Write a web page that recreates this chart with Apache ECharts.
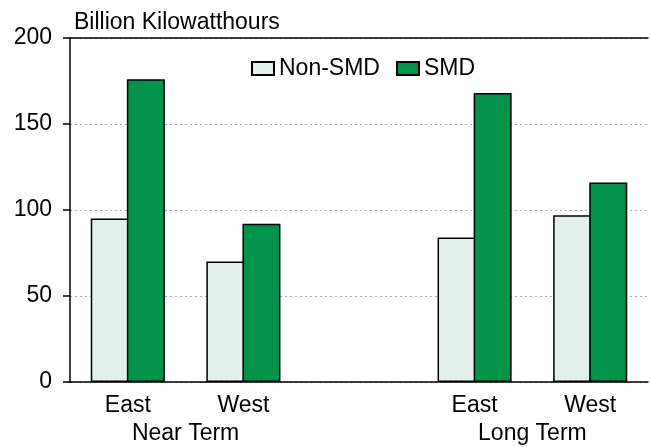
<!DOCTYPE html>
<html>
<head>
    <meta charset="utf-8">
    <title>Billion Kilowatthours</title>
    <script src="https://cdn.jsdelivr.net/npm/echarts@6/dist/echarts.min.js"></script>
    <style>
        html, body { margin: 0; padding: 0; background: #fff; }
        #main { width: 651px; height: 447px; }
    </style>
</head>
<body>
<div id="main"></div>
<script type="text/javascript">
// 数据
var categories = ['East', 'West', '', 'East', 'West'];
var groupOf = ['Near Term', 'Near Term', '', 'Long Term', 'Long Term'];
var nonSmd = [95, 70, null, 84, 97];
var smd = [176, 92, null, 168, 116];
var yTicks = [0, 50, 100, 150, 200];

// 组标签放在每组类别中心
var groupCenters = {};
(function () {
    var acc = {};
    for (var i = 0; i < groupOf.length; i++) {
        var g = groupOf[i];
        if (!g) continue;
        if (!acc[g]) acc[g] = [];
        acc[g].push(i + 0.5);
    }
    for (var k in acc) {
        var s = 0;
        for (var j = 0; j < acc[k].length; j++) s += acc[k][j];
        groupCenters[s / acc[k].length] = k;
    }
})();

var font = 'Liberation Sans, Arial, sans-serif';
var myChart = echarts.init(document.getElementById('main'));

myChart.setOption({
    animation: false,
    title: {
        text: 'Billion Kilowatthours',
        left: 69,
        top: 6,
        textStyle: { fontFamily: font, fontSize: 23, fontWeight: 'normal', color: '#000' }
    },
    legend: {
        left: 246,
        top: 52,
        itemWidth: 22,
        itemHeight: 13,
        itemGap: 16,
        icon: 'rect',
        textStyle: { fontFamily: font, fontSize: 23, color: '#000' },
        data: ['Non-SMD', 'SMD']
    },
    grid: { left: 70, right: 0, top: 38, bottom: 65 },
    xAxis: [{
        type: 'category',
        data: categories,
        axisLine: { lineStyle: { color: '#000', width: 1.5 } },
        axisTick: { show: false },
        axisLabel: { fontFamily: font, fontSize: 23, color: '#000', margin: 12, interval: 0 }
    }, {
        type: 'value',
        position: 'bottom',
        offset: 28,
        min: 0,
        max: categories.length,
        interval: 1,
        axisLine: { show: false },
        axisTick: { show: false },
        splitLine: { show: false },
        axisLabel: {
            fontFamily: font, fontSize: 23, color: '#000', margin: 12,
            formatter: function (v) { return groupCenters[v] || ''; }
        }
    }, {
        type: 'category',
        position: 'top',
        data: categories,
        axisLine: { lineStyle: { color: '#000', width: 1.5 } },
        axisTick: { show: false },
        axisLabel: { show: false }
    }],
    yAxis: {
        type: 'value',
        min: yTicks[0],
        max: yTicks[yTicks.length - 1],
        interval: yTicks[1] - yTicks[0],
        axisLine: { show: true, lineStyle: { color: '#000', width: 1.5 } },
        axisTick: { show: true, length: 7, lineStyle: { color: '#000', width: 1.5 } },
        axisLabel: { fontFamily: font, fontSize: 23, color: '#000', margin: 18 },
        splitLine: { show: true, lineStyle: { color: '#aaa', type: [2, 3], width: 1 } }
    },
    series: [{
        name: 'Non-SMD',
        type: 'bar',
        xAxisIndex: 0,
        data: nonSmd,
        barWidth: 38,
        barGap: '-5%',
        itemStyle: { color: '#e2f0ec', borderColor: '#000', borderWidth: 1.5 }
    }, {
        name: 'SMD',
        type: 'bar',
        xAxisIndex: 0,
        data: smd,
        barWidth: 38,
        barGap: '-5%',
        itemStyle: { color: '#02934a', borderColor: '#000', borderWidth: 1.5 }
    }]
});
</script>
</body>
</html>
